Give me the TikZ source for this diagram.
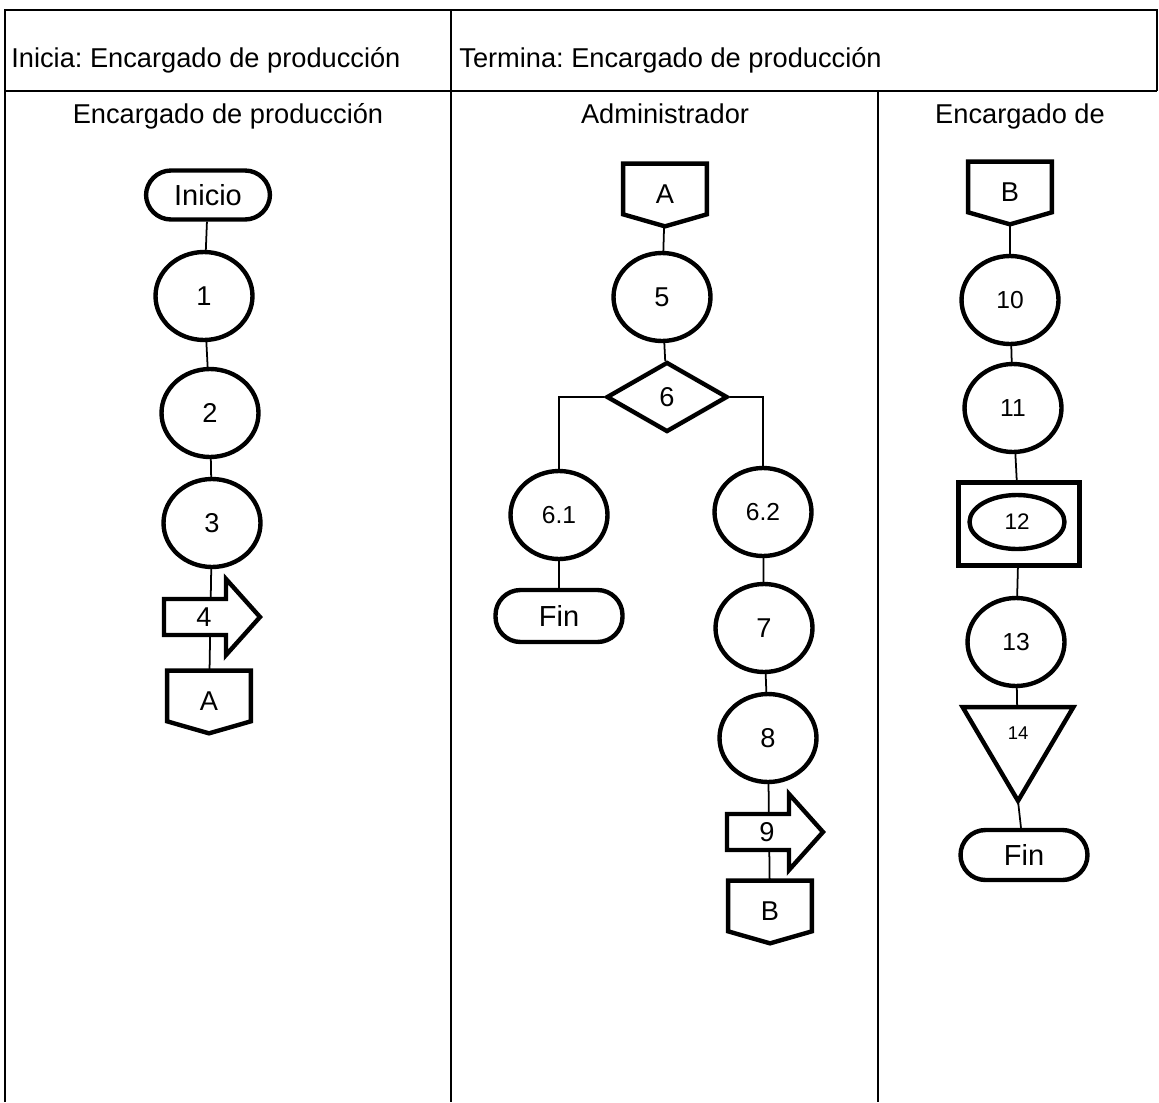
\documentclass[tikz,border=0pt]{standalone}
\usepackage{fontspec}
\setmainfont{Liberation Sans}
\usetikzlibrary{shapes.geometric}
\pgfdeclarelayer{background}
\pgfdeclarelayer{middle}
\pgfsetlayers{background,middle,main}
\newcommand\fsz[1]{\fontsize{#1pt}{#1pt}\selectfont}
\frenchspacing
\begin{document}
\begin{tikzpicture}[x=0.02cm,y=-0.02cm,
  shp/.style={draw, line width=2.5pt, fill=white, line join=miter},
  proc/.style={shp, ellipse, inner sep=0pt, minimum width=1.94cm, minimum height=1.76cm, font=\fsz{15.5}},
  term/.style={shp, rectangle, rounded corners=0.5cm, inner sep=0pt, minimum width=2.54cm, minimum height=1.02cm, font=\fsz{16.5}},
  offp/.style={inner sep=0pt, minimum width=1.66cm, minimum height=1.24cm, font=\fsz{15.5}},
  dec/.style={shp, diamond, inner sep=0pt, minimum width=2.42cm, minimum height=1.40cm, font=\fsz{15.5}},
  conn/.style={line width=1pt},
  tbl/.style={line width=1.3pt},
  lbl/.style={font=\fsz{15.5}, inner sep=0pt}
]
\useasboundingbox (0,0) rectangle (1159,1102);

% table
\draw[tbl] (5,1102) -- (5,10) -- (1157,10) -- (1157,91);
\draw[tbl] (5,91) -- (1157,91);
\draw[tbl] (451,10) -- (451,1102);
\draw[tbl] (878,91) -- (878,1102);

\node[lbl, anchor=base west] (h1) at (11,67) {Inicia: Encargado de producción};
\node[lbl, anchor=base west] (h2) at (459,67) {Termina: Encargado de producción};
\node[lbl, anchor=base] (l1) at (228,123) {Encargado de producción};
\node[lbl, anchor=base] (l2) at (665,123) {Administrador};
\node[lbl, anchor=base] (l3) at (1020,123) {Encargado de};

% column 1
\node[term, minimum width=2.48cm, minimum height=0.98cm] (ini) at (208,195) {Inicio};
\node[proc] (c1) at (204,296) {1};
\node[proc] (c2) at (210,413) {2};
\node[proc] (c3) at (212,523) {3};
\node[font=\fsz{15.5}, inner sep=0pt] (a4) at (204,617) {4};
\node[offp] (A1) at (209,702) {\raisebox{0.05cm}{A}};

% column 2
\node[offp] (A2) at (665,195) {\raisebox{0.05cm}{A}};
\node[proc] (c5) at (662,297) {5};
\node[dec] (d6) at (667,397) {6};
\node[proc, font=\fsz{14}] (c61) at (559,515) {6.1};
\node[term, minimum height=1.04cm] (fin1) at (559,616) {Fin};
\node[proc, font=\fsz{14}] (c62) at (763,512) {6.2};
\node[proc] (c7) at (764,628) {7};
\node[proc] (c8) at (768,738) {8};
\node[font=\fsz{15.5}, inner sep=0pt] (a9) at (767,832) {9};
\node[offp] (B2) at (770,912) {\raisebox{0.05cm}{B}};

% column 3
\node[offp] (B3) at (1010,193) {\raisebox{0.05cm}{B}};
\node[proc, font=\fsz{14}] (c10) at (1010,300) {10};
\node[proc, font=\fsz{14}] (c11) at (1013,408) {11};
\node[shp, rectangle, inner sep=0pt, minimum width=2.42cm, minimum height=1.66cm] (b12) at (1019,524) {};
\node[shp, ellipse, inner sep=0pt, minimum width=1.90cm, minimum height=1.08cm, font=\fsz{12.8}] (e12) at (1017,522) {12};
\node[proc, font=\fsz{14}] (c13) at (1016,642) {13};
\node[inner sep=0pt, minimum width=2.20cm, minimum height=1.86cm, font=\fsz{10.5}] (t14) at (1018,754) {\raisebox{0.29cm}[0pt][0pt]{14}};
\node[term, minimum height=1.0cm] (fin2) at (1024,855) {Fin};

% shapes drawn behind their labels
\begin{pgfonlayer}{middle}
  \foreach \n in {A1,A2,B2,B3}{
    \draw[shp] (\n.north west) -- (\n.north east) -- ([yshift=0.24cm]\n.south east)
      -- (\n.south) -- ([yshift=0.24cm]\n.south west) -- cycle;
  }
  \draw[shp] (t14.north west) -- (t14.north east) -- (t14.south) -- cycle;
  \foreach \n in {a4,a9}{
    \draw[shp] ([shift={(-40,-18)}]\n.center) -- ([shift={(22,-18)}]\n.center)
      -- ([shift={(22,-38)}]\n.center) -- ([shift={(56,0)}]\n.center)
      -- ([shift={(22,38)}]\n.center) -- ([shift={(22,18)}]\n.center)
      -- ([shift={(-40,18)}]\n.center) -- cycle;
  }
\end{pgfonlayer}

% connectors
\begin{pgfonlayer}{background}
  \draw[conn] (ini) -- (c1);
  \draw[conn] (c1) -- (c2);
  \draw[conn] (c2) -- (c3);
  \draw[conn] (c3) -- (A1);
  \draw[conn] (A2) -- (c5);
  \draw[conn] (c5) -- (d6);
  \draw[conn] (d6.west) -| (c61.north);
  \draw[conn] (d6.east) -| (c62.north);
  \draw[conn] (c61) -- (fin1);
  \draw[conn] (c62) -- (c7);
  \draw[conn] (c7) -- (c8);
  \draw[conn] (c8) -- (B2);
  \draw[conn] (B3) -- (c10);
  \draw[conn] (c10) -- (c11);
  \draw[conn] (c11) -- (b12);
  \draw[conn] (b12) -- (c13);
  \draw[conn] (c13) -- (t14);
  \draw[conn] (t14.south) -- (fin2);
\end{pgfonlayer}
\end{tikzpicture}
\end{document}
